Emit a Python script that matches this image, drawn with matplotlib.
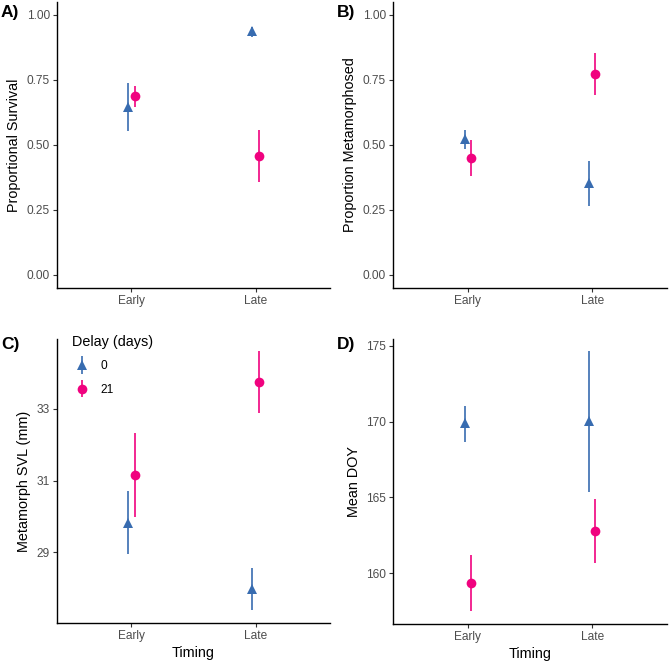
import matplotlib
matplotlib.use("Agg")
import matplotlib.pyplot as plt
from matplotlib.legend_handler import HandlerErrorbar
import numpy as np

plt.rcParams['font.family'] = ['Liberation Sans', 'DejaVu Sans']

# ---- data ----
timing = ["Early", "Late"]
delays = ["0", "21"]

surv_mean = {"0": [0.647, 0.938], "21": [0.688, 0.458]}
surv_lo = {"0": [0.554, 0.917], "21": [0.647, 0.359]}
surv_hi = {"0": [0.738, 0.955], "21": [0.727, 0.558]}

meta_mean = {"0": [0.522, 0.353], "21": [0.449, 0.773]}
meta_lo = {"0": [0.485, 0.265], "21": [0.381, 0.692]}
meta_hi = {"0": [0.558, 0.438], "21": [0.519, 0.853]}

svl_mean = {"0": [29.82, 27.98], "21": [31.15, 33.74]}
svl_lo = {"0": [28.955, 27.38], "21": [30.00, 32.88]}
svl_hi = {"0": [30.72, 28.57], "21": [32.33, 34.62]}

doy_mean = {"0": [169.90, 170.05], "21": [159.34, 162.76]}
doy_lo = {"0": [168.68, 165.37], "21": [157.47, 160.66]}
doy_hi = {"0": [171.04, 174.67], "21": [161.22, 164.87]}

colors = {"0": "#386cb0", "21": "#f0027f"}
markers = {"0": "^", "21": "o"}
msizes = {"0": 7.5, "21": 7.0}
offsets = {"0": -0.025, "21": 0.025}

TICK_FS = 8.6
TITLE_FS = 10.4

W, H = 669, 662
fig = plt.figure(figsize=(W / 100, H / 100), dpi=100)


def add_ax(l, r, t, b):
    return fig.add_axes([l / W, 1 - b / H, (r - l) / W, (b - t) / H])


def draw(ax, mean, lo, hi, ylabel, yticks, yticklabels, ylim, xlabel=False):
    handles = []
    x = np.arange(1, len(timing) + 1)
    for d in delays:
        m = np.array(mean[d]); l = np.array(lo[d]); h = np.array(hi[d])
        c = ax.errorbar(x + offsets[d], m, yerr=[m - l, h - m], fmt=markers[d],
                        color=colors[d], ms=msizes[d], elinewidth=1.2,
                        capsize=0, mew=0, label=d)
        handles.append(c)
    ax.set_xlim(0.4, 2.6)
    ax.set_xticks(x)
    ax.set_xticklabels(timing)
    ax.set_ylim(*ylim)
    ax.set_yticks(yticks)
    ax.set_yticklabels(yticklabels)
    for s in ["top", "right"]:
        ax.spines[s].set_visible(False)
    for s in ["left", "bottom"]:
        ax.spines[s].set_linewidth(1.0)
        ax.spines[s].set_color("black")
    ax.tick_params(axis="both", length=3, width=0.8, color="#333333",
                   labelsize=TICK_FS, labelcolor="#4D4D4D", pad=2)
    ax.set_ylabel(ylabel, fontsize=TITLE_FS, color="black", labelpad=4)
    if xlabel:
        ax.set_xlabel("Timing", fontsize=TITLE_FS, color="black", labelpad=3)
    return handles


axA = add_ax(57, 330, 2, 288)
axB = add_ax(393, 667, 2, 288)
axC = add_ax(57, 330, 339, 623)
axD = add_ax(393, 667, 339, 624)

pticks = [0.0, 0.25, 0.5, 0.75, 1.0]
plabels = ["0.00", "0.25", "0.50", "0.75", "1.00"]
draw(axA, surv_mean, surv_lo, surv_hi, "Proportional Survival", pticks, plabels, (-0.05, 1.05))
draw(axB, meta_mean, meta_lo, meta_hi, "Proportion Metamorphosed", pticks, plabels, (-0.05, 1.05))
hC = draw(axC, svl_mean, svl_lo, svl_hi, "Metamorph SVL (mm)", [29, 31, 33], ["29", "31", "33"], (27.03, 34.95), xlabel=True)
draw(axD, doy_mean, doy_lo, doy_hi, "Mean DOY", [160, 165, 170, 175], ["160", "165", "170", "175"], (156.64, 175.46), xlabel=True)

# panel labels
for txt, (px, py) in {"A)": (1, 12), "B)": (337, 12), "C)": (1, 344), "D)": (337, 344)}.items():
    fig.text(px / W, 1 - py / H, txt, fontsize=12.5, fontweight="bold", va="center", ha="left")

leg = axC.legend(handles=hC, labels=delays, title="Delay (days)", frameon=False,
                 loc="upper left", bbox_to_anchor=(72 / W, 1 - 335 / H),
                 bbox_transform=fig.transFigure, fontsize=TICK_FS, title_fontsize=TITLE_FS,
                 handlelength=1.6, handletextpad=0.75, labelspacing=0.95,
                 borderaxespad=0, borderpad=0,
                 handler_map={type(hC[0]): HandlerErrorbar(yerr_size=0.75)})
leg._legend_box.align = "left"

fig.savefig("out.png", dpi=100)
